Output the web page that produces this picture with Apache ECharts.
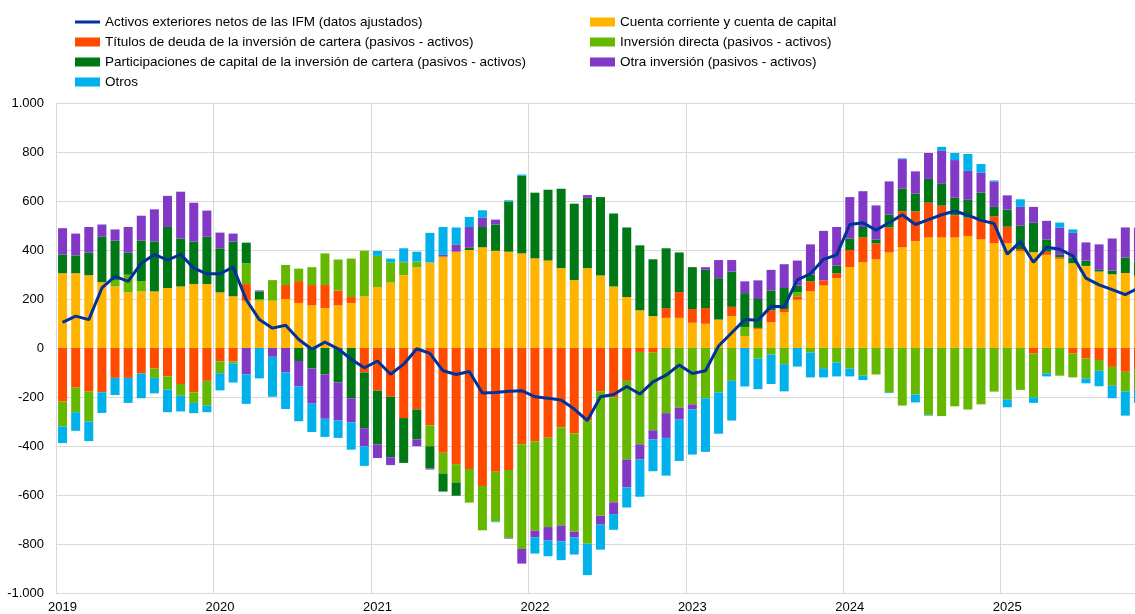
<!DOCTYPE html>
<html lang="es">
<head>
    <meta charset="UTF-8">
    <title>Activos exteriores netos de las IFM</title>
    <style>
        body {
            margin: 0;
            overflow: hidden;
            background: #fff;
        }
        #chart {
            width: 1160px;
            height: 614px;
        }
    </style>
    <script src="https://cdn.jsdelivr.net/npm/echarts@6/dist/echarts.min.js"></script>
</head>
<body>
    <div id="chart"></div>
    <script>
        // meses: enero 2019 - noviembre 2025
        const years = [2019, 2020, 2021, 2022, 2023, 2024, 2025];
        const lastMonth = 11;

        const months = [];
        years.forEach(y => {
            for (let m = 1; m <= 12; m++) {
                if (y === 2025 && m > lastMonth) break;
                months.push(y + '-' + String(m).padStart(2, '0'));
            }
        });

        // Cuenta corriente y cuenta de capital
        const cuentaCorriente = [
            305, 305, 297, 269, 251, 227, 231, 231, 245, 251, 261, 261,
            227, 211, 193, 193, 193, 200, 184, 174, 163, 174, 184, 211,
            249, 267, 297, 330, 349, 373, 393, 400, 411, 397, 393, 386,
            366, 357, 326, 277, 326, 296, 251, 208, 154, 130, 123, 123,
            103, 99, 116, 130, 49, 78, 105, 146, 197, 231, 255, 285,
            330, 350, 362, 390, 411, 436, 451, 451, 451, 457, 443, 427,
            427, 396, 391, 380, 364, 346, 335, 312, 301, 306, 295
        ];

        // Títulos de deuda de la inversión de cartera
        const titulosDeuda = [
            -219, -162, -178, -181, -122, -122, -104, -84, -116, -147, -181, -134,
            -55, -55, 68, 0, 0, 57, 89, 83, 94, 61, 24, -100,
            -174, -199, -286, -251, -316, -428, -474, -494, -563, -505, -498, -393,
            -381, -366, -323, -349, -296, -178, -201, -134, -16, -19, 40, 105,
            56, 64, 0, 38, 0, 4, 49, 13, 14, 41, 21, 20,
            70, 101, 65, 102, 147, 122, 142, 130, 91, 75, 78, 111,
            68, 8, -23, 13, 6, -23, -43, -49, -77, -97, -86
        ];

        // Inversión directa
        const inversionDirecta = [
            -101, -100, -122, 0, 27, 72, 41, -38, -54, -48, -43, -101,
            -48, -8, 85, 7, 84, 82, 51, 73, 129, 126, 157, 186,
            127, 83, 53, 23, -85, -84, -75, -137, -181, -203, -277, -426,
            -365, -365, -402, -401, -503, -507, -429, -321, -377, -317, -266, -243,
            -230, -205, -181, -134, 36, -43, -27, -66, 17, -19, -80, -59,
            -84, -113, -108, -181, -235, -190, -273, -278, -238, -251, -230, -178,
            -211, -171, -178, -104, -113, -97, -81, -44, -77, -81, -81
        ];

        // Participaciones de capital de la inversión de cartera
        const participaciones = [
            77, 73, 92, 185, 160, 90, 166, 204, 249, 196, 173, 193,
            180, 223, 84, 31, 0, 0, -53, -84, -108, -141, -205, -227,
            -219, -247, -183, -122, -91, -74, -54, 9, 83, 107, 205, 317,
            268, 289, 324, 312, 287, 320, 298, 284, 265, 232, 244, 162,
            171, 156, 169, 144, 139, 118, 81, 86, 27, 27, -4, 31,
            47, 43, 16, 52, 92, 72, 97, 89, 71, 73, 113, 38,
            70, 95, 120, 50, 10, 23, 22, 7, 15, 63, 58
        ];

        // Otra inversión
        const otraInversion = [
            107, 89, 105, 50, 46, 105, 102, 131, 127, 191, 159, 107,
            64, 33, -108, 4, -36, -100, -104, -143, -181, -155, -98, -74,
            -56, -32, 2, -28, -4, 7, 30, 85, 38, 20, -3, -61,
            -27, -55, -64, -23, 11, -36, -48, -114, -62, -37, -101, -49,
            -21, 11, 74, 47, 48, 76, 84, 97, 102, 124, 202, 158,
            169, 146, 139, 136, 121, 91, 106, 135, 154, 118, 81, 104,
            58, 77, 65, 76, 111, 101, 74, 104, 131, 123, 138
        ];

        // Otros
        const otros = [
            -68, -76, -80, -84, -70, -102, -101, -63, -92, -64, -42, -27,
            -70, -78, -120, -124, -163, -149, -142, -116, -74, -71, -112, -80,
            20, 15, 55, 40, 121, 114, 69, 41, 30, -3, 5, 5,
            -66, -64, -77, -70, -128, -102, -64, -82, -152, -130, -154, -169,
            -184, -219, -169, -162, -157, -125, -120, -111, -76, -101, -36, -57,
            -32, -18, 0, -3, 3, -32, -3, 16, 29, 69, 36, 4,
            -31, 31, -23, -12, 21, 14, -20, -63, -51, -98, -57
        ];

        // Activos exteriores netos de las IFM (datos ajustados)
        const activosNetos = [
            105, 130, 116, 245, 292, 272, 346, 382, 359, 382, 326, 303,
            303, 330, 197, 116, 81, 93, 35, -5, 24, -3, -46, -81,
            -53, -107, -66, -3, -22, -93, -108, -96, -184, -182, -177, -174,
            -199, -205, -212, -249, -296, -199, -190, -157, -188, -138, -111, -69,
            -104, -93, 8, 62, 116, 113, 170, 168, 278, 303, 362, 380,
            504, 511, 481, 511, 544, 504, 524, 544, 559, 542, 521, 508,
            383, 434, 350, 411, 403, 376, 285, 258, 238, 218, 245
        ];

        const names = {
            linea: 'Activos exteriores netos de las IFM (datos ajustados)',
            cc: 'Cuenta corriente y cuenta de capital',
            td: 'Títulos de deuda de la inversión de cartera (pasivos - activos)',
            id: 'Inversión directa (pasivos - activos)',
            pc: 'Participaciones de capital de la inversión de cartera (pasivos - activos)',
            oi: 'Otra inversión (pasivos - activos)',
            ot: 'Otros'
        };

        const font = 'Arial, "Liberation Sans", sans-serif';
        const yearStart = i => i % 12 === 0;

        function barSeries(name, data, color) {
            return {
                name: name,
                type: 'bar',
                stack: 'total',
                data: data,
                barWidth: 9,
                itemStyle: { color: color },
                emphasis: { disabled: true }
            };
        }

        const chart = echarts.init(document.getElementById('chart'));

        const legendText = { fontFamily: font, fontSize: 13.5, color: '#000', lineHeight: 14 };

        function legendBlock(left, top, data, h) {
            return {
                orient: 'vertical',
                left: left,
                top: top,
                itemWidth: 25,
                itemHeight: h,
                itemGap: 6,
                icon: 'rect',
                textStyle: legendText,
                data: data
            };
        }

        chart.setOption({
            animation: false,
            legend: [
                // la línea lleva su propio bloque para que el icono sea una raya fina
                legendBlock(70, 10, [names.linea], 3),
                legendBlock(70, 30, [names.td, names.pc, names.ot], 9),
                legendBlock(585, 10, [names.cc, names.id, names.oi], 9)
            ],
            grid: {
                left: 56,
                right: 15,
                top: 103,
                bottom: 20
            },
            xAxis: {
                type: 'category',
                data: months,
                axisLine: { show: false },
                axisTick: { show: false },
                axisLabel: {
                    interval: yearStart,
                    formatter: v => v.slice(0, 4),
                    fontFamily: font,
                    fontSize: 13,
                    color: '#000',
                    margin: 8
                },
                splitLine: {
                    show: true,
                    interval: yearStart,
                    lineStyle: { color: '#d9d9d9', width: 1 }
                }
            },
            yAxis: {
                type: 'value',
                min: -1000,
                max: 1000,
                interval: 200,
                axisLine: { show: false },
                axisTick: { show: false },
                axisLabel: {
                    fontFamily: font,
                    fontSize: 13,
                    color: '#000',
                    margin: 12,
                    formatter: v => {
                        const s = Math.abs(v) >= 1000
                            ? Math.floor(Math.abs(v) / 1000) + '.' + String(Math.abs(v) % 1000).padStart(3, '0')
                            : String(Math.abs(v));
                        return (v < 0 ? '-' : '') + s;
                    }
                },
                splitLine: { lineStyle: { color: '#d9d9d9', width: 1 } }
            },
            series: [
                barSeries(names.cc, cuentaCorriente, '#FFB400'),
                barSeries(names.td, titulosDeuda, '#FF4B00'),
                barSeries(names.id, inversionDirecta, '#65B800'),
                barSeries(names.pc, participaciones, '#007816'),
                barSeries(names.oi, otraInversion, '#8139C6'),
                barSeries(names.ot, otros, '#00B1EA'),
                {
                    name: names.linea,
                    type: 'line',
                    data: activosNetos,
                    symbol: 'none',
                    z: 5,
                    lineStyle: { color: '#003299', width: 3 },
                    itemStyle: { color: '#003299' },
                    emphasis: { disabled: true }
                }
            ]
        });
    </script>
</body>
</html>
